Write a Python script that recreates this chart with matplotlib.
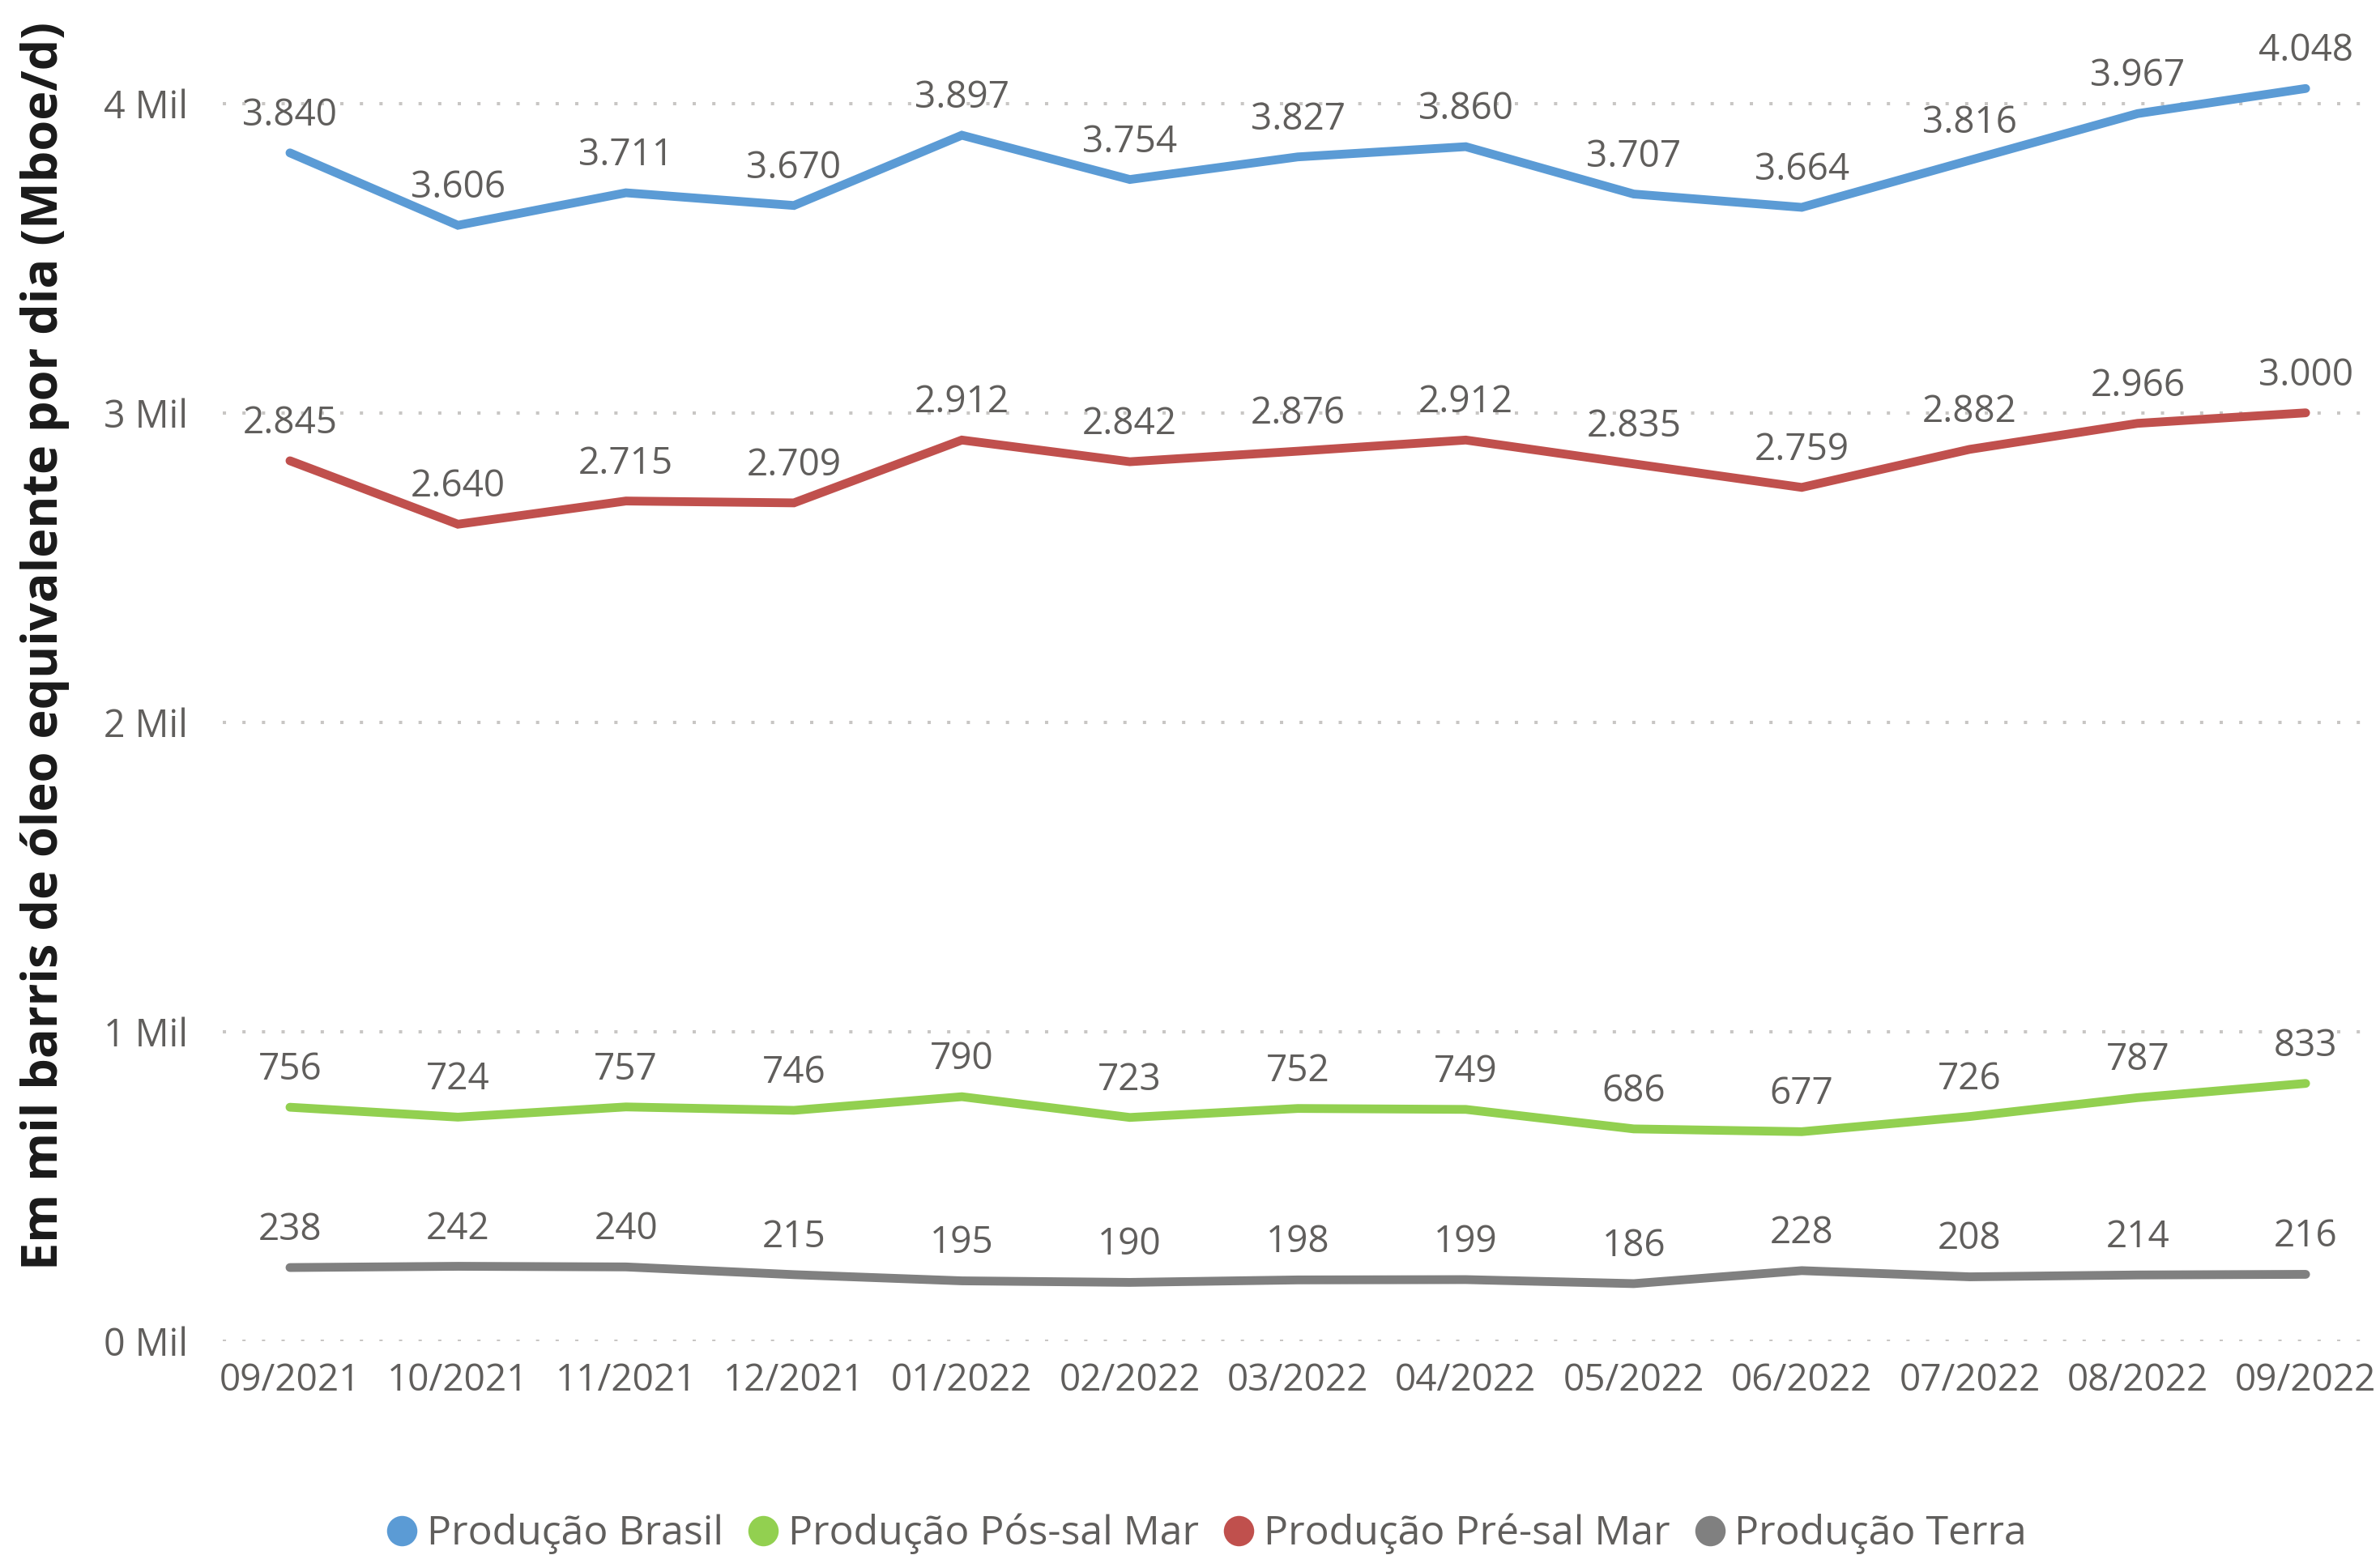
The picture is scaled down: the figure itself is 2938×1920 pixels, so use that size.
import matplotlib
matplotlib.use("Agg")
import matplotlib.pyplot as plt
from matplotlib.lines import Line2D

months = ["09/2021", "10/2021", "11/2021", "12/2021", "01/2022", "02/2022", "03/2022",
          "04/2022", "05/2022", "06/2022", "07/2022", "08/2022", "09/2022"]
brasil = [3840, 3606, 3711, 3670, 3897, 3754, 3827, 3860, 3707, 3664, 3816, 3967, 4048]
pos_sal = [756, 724, 757, 746, 790, 723, 752, 749, 686, 677, 726, 787, 833]
pre_sal = [2845, 2640, 2715, 2709, 2912, 2842, 2876, 2912, 2835, 2759, 2882, 2966, 3000]
terra = [238, 242, 240, 215, 195, 190, 198, 199, 186, 228, 208, 214, 216]
series_names = ["Produção Brasil", "Produção Pós-sal Mar", "Produção Pré-sal Mar", "Produção Terra"]
y_ticks = [0, 1000, 2000, 3000, 4000]
y_tick_labels = ["0 Mil", "1 Mil", "2 Mil", "3 Mil", "4 Mil"]

colors = ["#5B9BD5", "#92D050", "#C0504D", "#808080"]
txt_color = "#605E5C"
FONT = ["Open Sans", "DejaVu Sans"]
plt.rcParams["font.family"] = FONT

W, H = 2938, 1920
fig = plt.figure(figsize=(W / 100, H / 100), dpi=100)
left, right, bottom_px, top_px = 275, 2925, 1656, 13
ax = fig.add_axes([left / W, 1 - bottom_px / H, (right - left) / W, (bottom_px - top_px) / H])

x = list(range(len(months)))
all_series = [brasil, pos_sal, pre_sal, terra]
for vals, c in zip(all_series, colors):
    ax.plot(x, vals, color=c, lw=7.8, solid_capstyle="round", solid_joinstyle="miter", zorder=3)
    for xi, v in zip(x, vals):
        lab = f"{v:,}".replace(",", ".")
        ax.annotate(lab, (xi, v), xytext=(0, 24.5), textcoords="offset points",
                    ha="center", va="baseline", fontsize=33, color=txt_color, zorder=4)

ax.set_xlim(-0.4, 12.38)
ax.set_ylim(0, 4300)
ax.set_yticks(y_ticks)
ax.set_yticklabels(y_tick_labels)
ax.set_xticks(x)
ax.set_xticklabels(months)
ax.tick_params(axis="y", length=0, pad=31, labelsize=33.5, labelcolor=txt_color)
ax.tick_params(axis="x", length=0, pad=19, labelsize=33, labelcolor=txt_color)
for s in ax.spines.values():
    s.set_visible(False)
ax.grid(axis="y", color="#C8C6C4", lw=2.9, linestyle=(0, (1, 5)), zorder=1)
ax.set_axisbelow(True)

fig.text(56 / W, 1 - 797 / H, "Em mil barris de óleo equivalente por dia (Mboe/d)",
         rotation=90, ha="center", va="center", fontsize=44, fontweight="bold", color="#1A1A1A")

handles = [Line2D([], [], marker="o", linestyle="none", markersize=27, color=c,
                  markeredgewidth=0) for c in colors]
fig.legend(handles, series_names, loc="center", bbox_to_anchor=(1490 / W, 1 - 1894 / H),
           ncol=4, frameon=False, fontsize=36, labelcolor=txt_color, handlelength=0.74,
           handletextpad=0.24, columnspacing=0.62, borderpad=0, handleheight=0.7)

fig.savefig("out.png", dpi=100)
